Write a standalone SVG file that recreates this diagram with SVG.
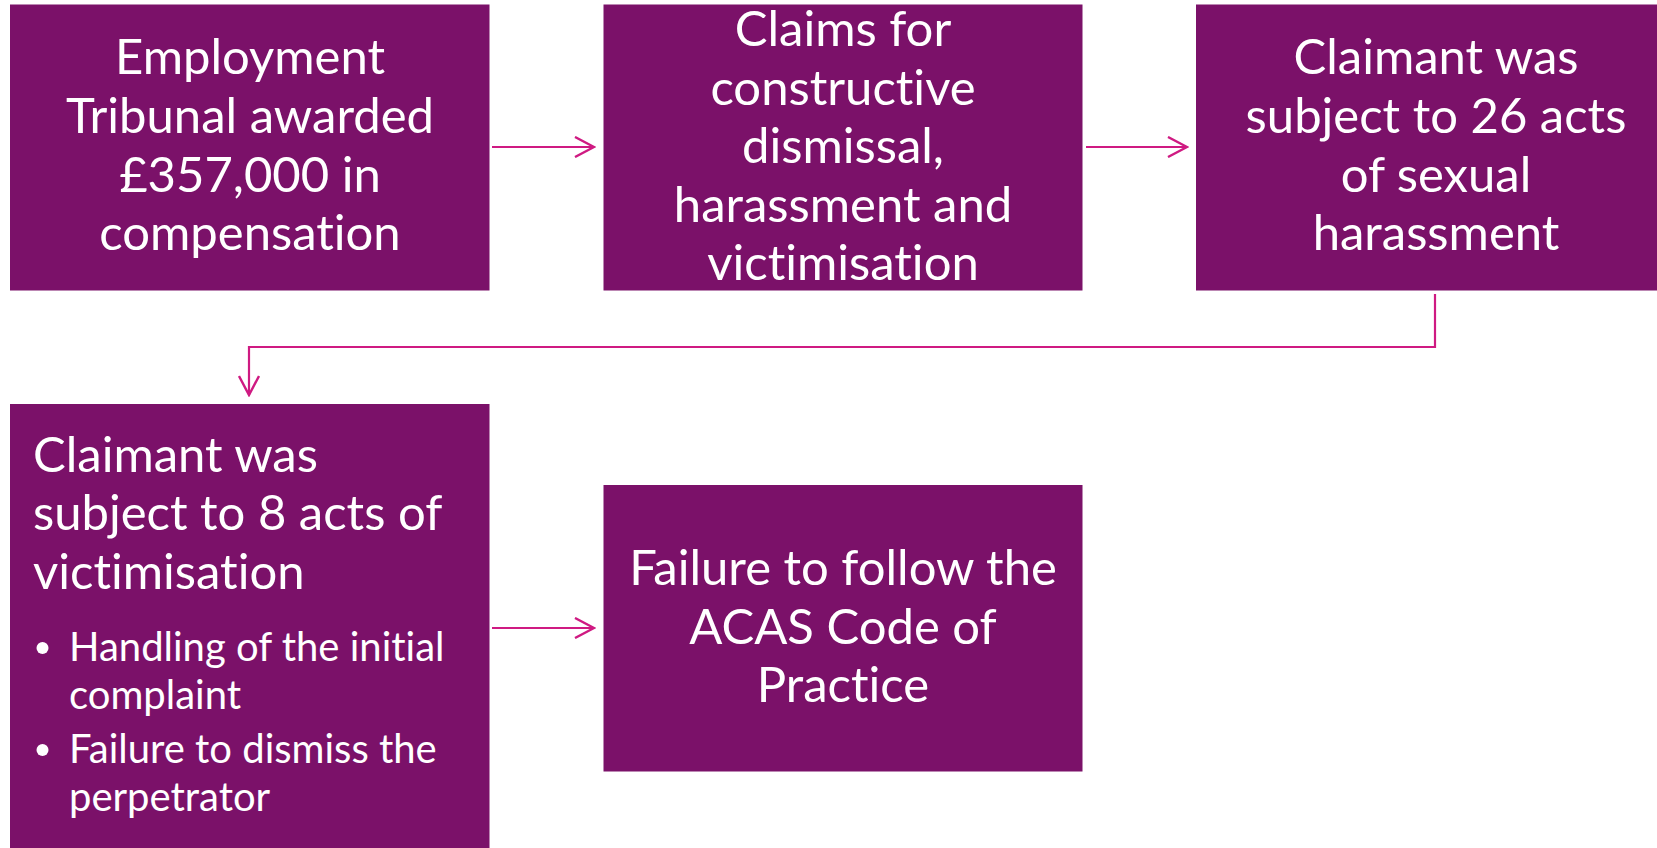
<svg xmlns="http://www.w3.org/2000/svg" width="1657" height="848" viewBox="0 0 1657 848">
  <style>
    .box { fill: #7B1169; }
    .t { font-family: Lato, "Liberation Sans", sans-serif; fill: #FFFFFF; font-size: 49px; font-variant-ligatures: none; }
    .c { text-anchor: middle; }
    .s { font-size: 40px; }
    .conn { fill: none; stroke: #CF1A82; stroke-width: 2.2; }
  </style>
  <defs>
    <!-- open chevron head shared by every connector -->
    <marker id="arrow" viewBox="0 0 22 22" refX="20" refY="11" markerWidth="22" markerHeight="22" markerUnits="userSpaceOnUse" orient="auto">
      <path d="M1,1 L20,11 L1,21" fill="none" stroke="#CF1A82" stroke-width="2.4"/>
    </marker>
  </defs>
  <rect width="1657" height="848" fill="#FFFFFF"/>

  <g id="connectors">
    <path class="conn" d="M492,147 H594" marker-end="url(#arrow)"/>
    <path class="conn" d="M1086,147 H1187" marker-end="url(#arrow)"/>
    <path class="conn" d="M1435,294 V347 H249 V395" marker-end="url(#arrow)"/>
    <path class="conn" d="M492,628 H594" marker-end="url(#arrow)"/>
  </g>

  <g id="node-award">
    <rect class="box" x="10" y="4.5" width="479.5" height="286"/>
    <text class="t c" x="250" y="74">Employment</text>
    <text class="t c" x="250" y="133">Tribunal awarded</text>
    <text class="t c" x="250" y="192">£357,000 in</text>
    <text class="t c" x="250" y="250">compensation</text>
  </g>

  <g id="node-claims">
    <rect class="box" x="603.5" y="4.5" width="479" height="286"/>
    <text class="t c" x="843" y="46">Claims for</text>
    <text class="t c" x="843" y="104.5">constructive</text>
    <text class="t c" x="843" y="163">dismissal,</text>
    <text class="t c" x="843" y="221.5">harassment and</text>
    <text class="t c" x="843" y="280">victimisation</text>
  </g>

  <g id="node-harassment">
    <rect class="box" x="1196" y="4.5" width="480" height="286"/>
    <text class="t c" x="1436" y="74">Claimant was</text>
    <text class="t c" x="1436" y="133">subject to 26 acts</text>
    <text class="t c" x="1436" y="192">of sexual</text>
    <text class="t c" x="1436" y="250">harassment</text>
  </g>

  <g id="node-victimisation">
    <rect class="box" x="10" y="404" width="479.5" height="444"/>
    <text class="t" x="33" y="471.5">Claimant was</text>
    <text class="t" x="33" y="530">subject to 8 acts of</text>
    <text class="t" x="33" y="589">victimisation</text>
    <circle cx="42.5" cy="648" r="6" fill="#FFFFFF"/>
    <text class="t s" x="69" y="661">Handling of the initial</text>
    <text class="t s" x="69" y="709">complaint</text>
    <circle cx="42.5" cy="750" r="6" fill="#FFFFFF"/>
    <text class="t s" x="69" y="763">Failure to dismiss the</text>
    <text class="t s" x="69" y="811">perpetrator</text>
  </g>

  <g id="node-acas">
    <rect class="box" x="603.5" y="485" width="479" height="286.5"/>
    <text class="t c" x="843" y="585">Failure to follow the</text>
    <text class="t c" x="843" y="644">ACAS Code of</text>
    <text class="t c" x="843" y="702">Practice</text>
  </g>
</svg>
